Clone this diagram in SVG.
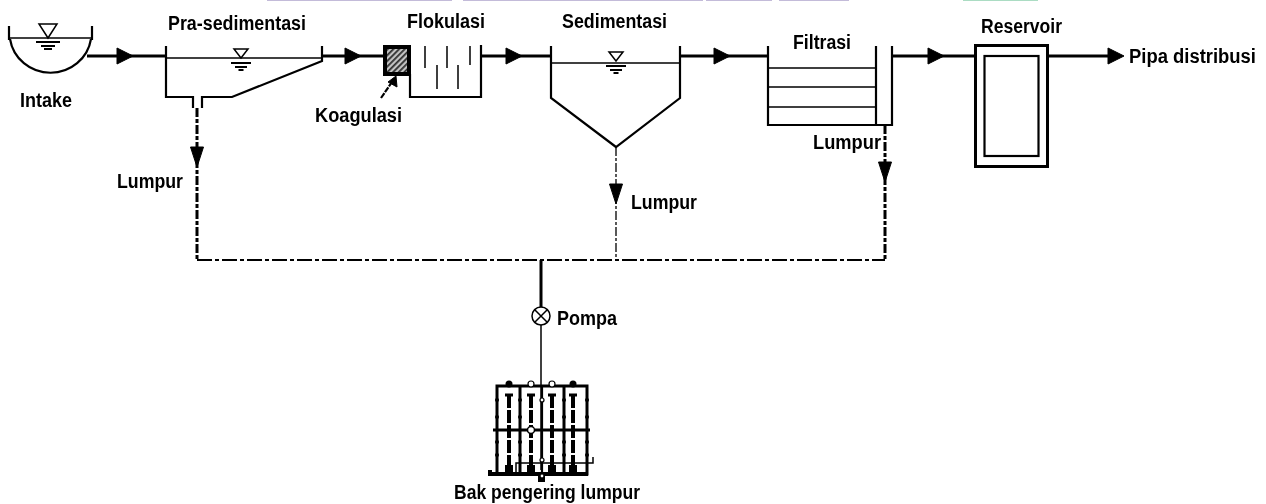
<svg xmlns="http://www.w3.org/2000/svg" width="1266" height="504" viewBox="0 0 1266 504">
<style>
text{font-family:"Liberation Sans",Arial,sans-serif;font-weight:700;font-size:20px;fill:#000}
.t{fill:none;stroke:#000;stroke-width:2.200}
.m{fill:none;stroke:#000;stroke-width:3}
.n{fill:none;stroke:#000;stroke-width:1.500}
.d{fill:none;stroke:#000;stroke-width:1.800;stroke-dasharray:15 3 4 3}
.v{fill:none;stroke:#000;stroke-width:3;stroke-dasharray:9 2 4 2}
.w{fill:none;stroke:#000;stroke-width:1.300;stroke-dasharray:9 2 3 2}
.h{fill:none;stroke:#000;stroke-width:4;stroke-dasharray:13 2}
.a{fill:#000;stroke:#000;stroke-width:1;stroke-linejoin:round}
.s{fill:#fff;stroke:#000;stroke-width:1.200}
</style>
<defs>
<filter id="soft" x="-2%" y="-2%" width="104%" height="104%"><feGaussianBlur stdDeviation="0.35"/></filter>
<pattern id="hatch" width="4" height="4" patternUnits="userSpaceOnUse" patternTransform="rotate(-45)">
<rect width="4" height="4" fill="#c4c4c4"/><rect width="4" height="1.800" fill="#303030"/>
</pattern>
<g id="water"><path class="n" d="M-7 0H7L0 9Z" fill="#fff"/><path class="t" d="M-10 14H10M-6 18H6M-2.500 21H2.500"/></g>
<g id="water2"><path class="n" d="M-9 0H9L0 14Z" fill="#fff"/><path class="t" d="M-12 18H12M-7 22H7M-4 25H4"/></g>
<polygon id="ar" class="a" points="0,-8 16,0 0,8"/>
<polygon id="ad" class="a" points="-6.500,0 6.500,0 0,20"/>
</defs>
<g filter="url(#soft)">
<g id="nav-strips">
<rect x="267" y="0" width="185" height="1" fill="#c3bbd9"/>
<rect x="463" y="0" width="240" height="1" fill="#c3bbd9"/>
<rect x="706" y="0" width="66" height="1" fill="#c3bbd9"/>
<rect x="779" y="0" width="70" height="1" fill="#c3bbd9"/>
<rect x="963" y="0" width="75" height="1" fill="#abdcc3"/>
</g>
<g id="connectors">
<path class="m" d="M87 56H166M323 56H383M481 56H551M680 56H768M892 56H975M1047 56H1110"/>
<use href="#ar" x="117" y="56"/><use href="#ar" x="345" y="56"/><use href="#ar" x="506" y="56"/><use href="#ar" x="714" y="56"/><use href="#ar" x="928" y="56"/><use href="#ar" x="1108" y="56"/>
<path class="d" d="M197 260H885"/>
<path class="v" d="M197 108V260M885 125V260"/>
<path class="w" d="M616 147V260"/>
<use href="#ad" x="197" y="147"/><use href="#ad" x="616" y="184"/><use href="#ad" x="885" y="162"/>
<path class="m" d="M541 260V308"/>
<path class="n" d="M541 325V470"/>
<path class="t" stroke-dasharray="6 1" d="M381 98L392 82"/><polygon class="a" points="396,76 397,87 388,82"/>
</g>
<g id="intake">
<path class="t" d="M9 26V40M92 26V40M10 39A41 40 0 0 0 91 39"/>
<path class="n" d="M10 38H91"/>
<use href="#water2" x="48" y="24"/>
<text x="20" y="107" textLength="52" lengthAdjust="spacingAndGlyphs">Intake</text>
</g>
<g id="pra-sedimentasi">
<path class="t" d="M166 46V97H193V108M202 108V97H232L322 61V46"/>
<path class="n" d="M166 58H322"/>
<use href="#water" x="241" y="49"/>
<text x="168" y="30" textLength="138" lengthAdjust="spacingAndGlyphs">Pra-sedimentasi</text>
<text x="117" y="188" textLength="66" lengthAdjust="spacingAndGlyphs">Lumpur</text>
</g>
<g id="koagulasi">
<rect x="385" y="47" width="24" height="27" fill="url(#hatch)" stroke="#000" stroke-width="4"/>
<text x="315" y="122" textLength="87" lengthAdjust="spacingAndGlyphs">Koagulasi</text>
</g>
<g id="flokulasi">
<path class="t" d="M410 74V97H481V45"/>
<path class="n" d="M425 46V68M447 46V68M470 46V65M437 65V89M458 65V89"/>
<text x="407" y="28" textLength="78" lengthAdjust="spacingAndGlyphs">Flokulasi</text>
</g>
<g id="sedimentasi">
<path class="t" d="M551 46V98L616 147L680 98V46"/>
<path class="n" d="M551 63H680"/>
<use href="#water" x="616" y="52"/>
<text x="562" y="28" textLength="105" lengthAdjust="spacingAndGlyphs">Sedimentasi</text>
<text x="631" y="209" textLength="66" lengthAdjust="spacingAndGlyphs">Lumpur</text>
</g>
<g id="filtrasi">
<path class="t" d="M768 46V125H892V46M876 46V125"/>
<path class="n" d="M768 68H876M768 87H876M768 107H876"/>
<text x="793" y="49" textLength="58" lengthAdjust="spacingAndGlyphs">Filtrasi</text>
<text x="813" y="149" textLength="68" lengthAdjust="spacingAndGlyphs">Lumpur</text>
</g>
<g id="reservoir">
<rect x="975.500" y="45.500" width="72" height="121" fill="none" stroke="#000" stroke-width="3"/>
<rect x="984.500" y="56" width="54" height="100" class="t"/>
<text x="981" y="33" textLength="81" lengthAdjust="spacingAndGlyphs">Reservoir</text>
<text x="1129" y="63" textLength="127" lengthAdjust="spacingAndGlyphs">Pipa distribusi</text>
</g>
<g id="pompa">
<circle cx="541" cy="316" r="9" fill="#fff" stroke="#000" stroke-width="1.500"/>
<path class="n" d="M534.500 309.500L547.500 322.500M547.500 309.500L534.500 322.500"/>
<text x="557" y="325" textLength="60" lengthAdjust="spacingAndGlyphs">Pompa</text>
</g>
<g id="bak-pengering">
<path class="m" d="M497 386H587V474H497ZM520 386V474M564 386V474M493 430H590"/>
<path class="t" d="M542 386V474"/>
<path class="m" d="M505 395H513M527 395H535M548 395H556M569 395H577"/>
<path class="h" d="M509 395V470M531 395V470M552 395V470M573 395V470"/>
<path stroke="#000" stroke-width="4" fill="none" d="M490 470V474H588"/>
<path class="n" d="M516 474V463H593V457"/>
<rect x="505" y="465" width="8" height="9"/><rect x="527" y="465" width="8" height="9"/><rect x="548" y="465" width="8" height="9"/><rect x="569" y="465" width="8" height="9"/>
<rect x="538" y="476" width="7" height="6"/>
<circle cx="509" cy="384" r="3.500"/><circle cx="531" cy="384" r="3" class="s"/><circle cx="552" cy="384" r="3" class="s"/><circle cx="573" cy="384" r="3.500"/>
<g id="bed-dots">
<circle cx="497" cy="400" r="2"/><circle cx="497" cy="417" r="2"/><circle cx="497" cy="442" r="2"/><circle cx="497" cy="455" r="2"/>
<circle cx="520" cy="400" r="2"/><circle cx="520" cy="417" r="2"/><circle cx="520" cy="442" r="2"/><circle cx="520" cy="455" r="2"/>
<circle cx="564" cy="400" r="2"/><circle cx="564" cy="417" r="2"/><circle cx="564" cy="442" r="2"/><circle cx="564" cy="455" r="2"/>
<circle cx="587" cy="400" r="2"/><circle cx="587" cy="417" r="2"/><circle cx="587" cy="442" r="2"/><circle cx="587" cy="455" r="2"/>
<circle cx="542" cy="400" r="2" class="s"/><circle cx="542" cy="460" r="2" class="s"/><circle cx="542" cy="476" r="2" class="s"/>
</g>
<circle cx="531" cy="430" r="3.500" fill="#fff" stroke="#000" stroke-width="1.500"/>
<text x="454" y="499" textLength="186" lengthAdjust="spacingAndGlyphs">Bak pengering lumpur</text>
</g>
</g>
</svg>
